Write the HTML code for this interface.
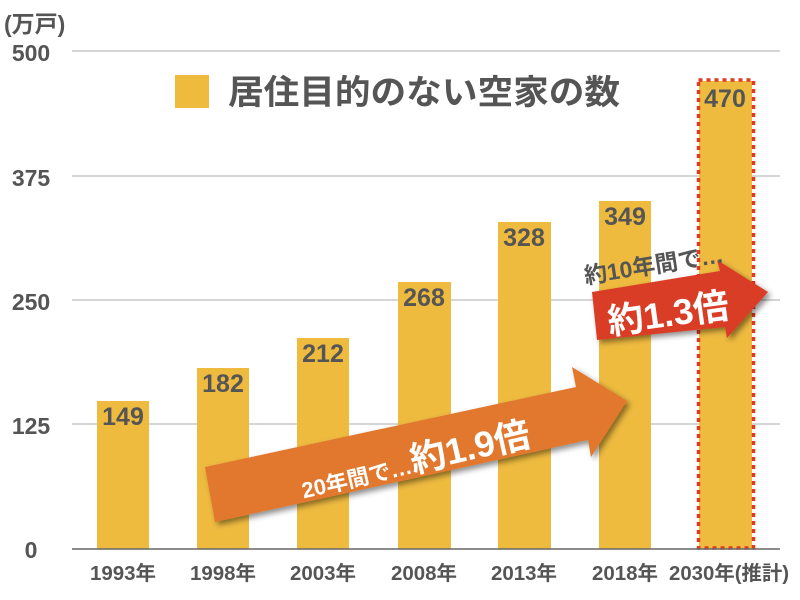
<!DOCTYPE html>
<html><head><meta charset="utf-8"><style>
html,body{margin:0;padding:0;background:#fff;}
svg{display:block;}
text{font-family:"Liberation Sans","Noto Sans CJK JP",sans-serif;font-weight:bold;}
</style></head><body>
<svg width="800" height="600" viewBox="0 0 800 600">
<defs>
<filter id="sh" x="-10%" y="-20%" width="130%" height="150%"><feDropShadow dx="3" dy="3" stdDeviation="3" flood-color="#000" flood-opacity="0.45"/></filter>
</defs>
<g stroke="#bdbdbd" stroke-width="1.3">
<line x1="72" y1="51" x2="780" y2="51"/>
<line x1="72" y1="176" x2="780" y2="176"/>
<line x1="72" y1="300" x2="780" y2="300"/>
<line x1="72" y1="424" x2="780" y2="424"/>
</g>
<text x="4" y="32" font-size="23" fill="#555">(万戸)</text>
<g font-size="23" fill="#555" text-anchor="middle">
<text x="31" y="61">500</text>
<text x="31" y="186">375</text>
<text x="31" y="310">250</text>
<text x="31" y="434">125</text>
<text x="31" y="558">0</text>
</g>
<g fill="#EEBB3F">
<rect x="97" y="401" width="52" height="148"/>
<rect x="197" y="368" width="52" height="181"/>
<rect x="297" y="338" width="52" height="211"/>
<rect x="398" y="282" width="53" height="267"/>
<rect x="498" y="222" width="53" height="327"/>
<rect x="599" y="201" width="52" height="348"/>
<rect x="699" y="81" width="53" height="468"/>
</g>
<rect x="698.5" y="80" width="55" height="468" fill="none" stroke="#E03A25" stroke-width="3.5" stroke-dasharray="4 4"/>
<line x1="72" y1="549" x2="780" y2="549" stroke="#666" stroke-width="1.5"/>
<g font-size="25" fill="#555" text-anchor="middle">
<text x="123" y="425">149</text>
<text x="223" y="392">182</text>
<text x="323" y="362">212</text>
<text x="424" y="306">268</text>
<text x="524" y="246">328</text>
<text x="625" y="225">349</text>
<text x="725" y="107">470</text>
</g>
<g font-size="20" fill="#555" text-anchor="middle">
<text x="123" y="580" textLength="66" lengthAdjust="spacingAndGlyphs">1993年</text>
<text x="223" y="580" textLength="66" lengthAdjust="spacingAndGlyphs">1998年</text>
<text x="323" y="580" textLength="66" lengthAdjust="spacingAndGlyphs">2003年</text>
<text x="424" y="580" textLength="66" lengthAdjust="spacingAndGlyphs">2008年</text>
<text x="524" y="580" textLength="66" lengthAdjust="spacingAndGlyphs">2013年</text>
<text x="625" y="580" textLength="66" lengthAdjust="spacingAndGlyphs">2018年</text>
<text x="729" y="580" textLength="120" lengthAdjust="spacingAndGlyphs">2030年(推計)</text>
</g>
<rect x="175" y="75" width="34" height="33" fill="#EEBB3F"/>
<text x="228" y="104" font-size="34" fill="#555" textLength="392" lengthAdjust="spacingAndGlyphs">居住目的のない空家の数</text>
<polygon points="205,467 576,387 572,367 627,401 591,457 588,440 215,522" fill="#E2782E" filter="url(#sh)"/>
<text transform="translate(418,472) rotate(-13)" text-anchor="middle" fill="#fff"><tspan font-size="22">20年間で…</tspan><tspan font-size="36">約1.9倍</tspan></text>
<polygon points="592,292 720,271 717,260 768,292 727,338 725,327 597,340" fill="#DA3D26" filter="url(#sh)"/>
<text transform="translate(670,326) rotate(-8)" text-anchor="middle" font-size="36" fill="#fff">約1.3倍</text>
<text transform="translate(655,273) rotate(-9)" text-anchor="middle" font-size="23" fill="#555">約10年間で…</text>
</svg>
</body></html>
